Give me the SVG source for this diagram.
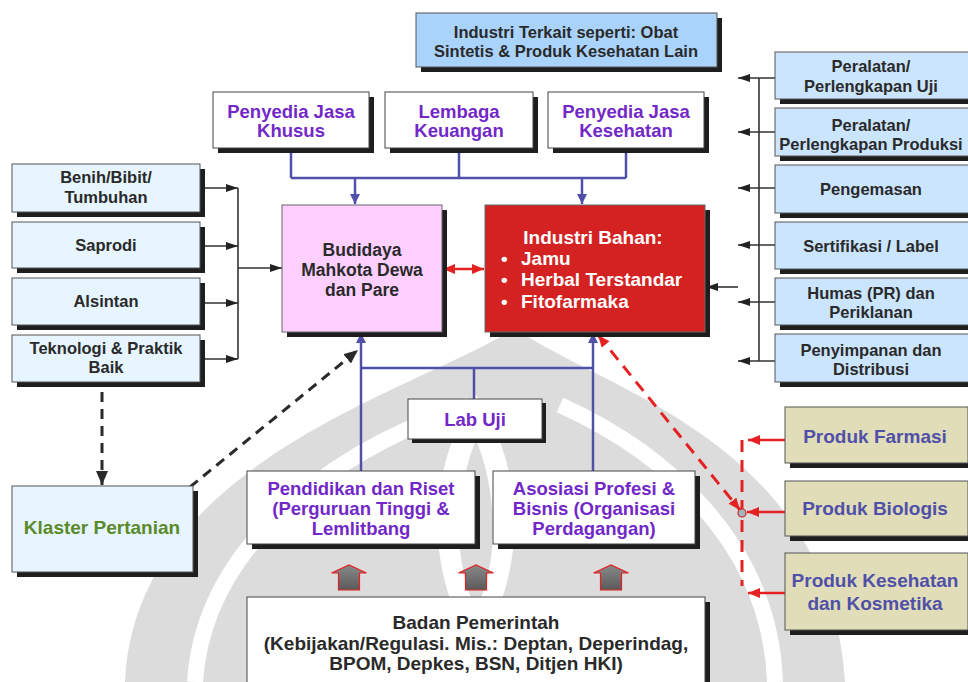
<svg xmlns="http://www.w3.org/2000/svg" width="968" height="682" viewBox="0 0 968 682">
<defs>
<style>
.sh{fill:#1e1e1e}
.lb{fill:#E6F5FF;stroke:#555;stroke-width:1}
.rb{fill:#CCE5FF;stroke:#555;stroke-width:1}
.wb{fill:#fff;stroke:#444;stroke-width:1}
.pk{fill:#FFD0FF;stroke:#666;stroke-width:1}
.rd{fill:#D42222;stroke:#666;stroke-width:1}
.pb{fill:#E0DDB8;stroke:#555;stroke-width:1}
.tb{fill:#AAD3FC;stroke:#555;stroke-width:1}
.t{font-family:"Liberation Sans",Arial,sans-serif;font-weight:bold;text-anchor:middle}
.dk{fill:#2a2a2a;font-size:16.5px}
.pu{fill:#7228C8;font-size:18.5px}
.bl{fill:#5050A8;font-size:19px}
.wt{fill:#fff;font-size:19px;font-family:"Liberation Sans",Arial,sans-serif;font-weight:bold}
.bc{fill:none;stroke:#5050A8;stroke-width:2.5}
.kc{fill:none;stroke:#333;stroke-width:1.6}
.dc{fill:none;stroke:#2a2a2a;stroke-width:3;stroke-dasharray:10 7}
.rc{fill:none;stroke:#E52222;stroke-width:2.5}
.rdc{fill:none;stroke:#E52222;stroke-width:3;stroke-dasharray:12 8}
.ba{fill:url(#g);stroke:#E52222;stroke-width:1.2}
</style>
<linearGradient id="g" x1="0" y1="0" x2="0" y2="1"><stop offset="0" stop-color="#8a8a8a"/><stop offset="1" stop-color="#5a5a5a"/></linearGradient>
<marker id="ab" markerUnits="userSpaceOnUse" markerWidth="12" markerHeight="12" refX="10" refY="5" orient="auto"><path d="M0,0 L10,5 L0,10 Z" fill="#5050A8"/></marker>
<marker id="ak" markerUnits="userSpaceOnUse" markerWidth="14" markerHeight="10" refX="12" refY="4" orient="auto"><path d="M0,0 L12,4 L0,8 Z" fill="#222"/></marker>
<marker id="ar" markerUnits="userSpaceOnUse" markerWidth="14" markerHeight="12" refX="12" refY="5" orient="auto"><path d="M0,0 L12,5 L0,10 Z" fill="#E52222"/></marker>
<marker id="ars" markerUnits="userSpaceOnUse" markerWidth="14" markerHeight="12" refX="0" refY="5" orient="auto"><path d="M12,0 L0,5 L12,10 Z" fill="#E52222"/></marker>
<marker id="ad" markerUnits="userSpaceOnUse" markerWidth="16" markerHeight="14" refX="14" refY="6" orient="auto"><path d="M0,0 L14,6 L0,12 Z" fill="#2a2a2a"/></marker>
</defs>
<rect width="968" height="682" fill="#fff"/>
<g id="watermark" fill="#dcdcdc">
<path d="M515,328 C600,390 830,440 845,682 L125,682 C135,460 420,390 515,328 Z"/>
<path d="M195,682 C205,530 360,440 470,405" fill="none" stroke="#fff" stroke-width="16"/>
<path d="M775,682 C770,540 660,450 560,405" fill="none" stroke="#fff" stroke-width="16"/>
<path d="M476,395 C430,460 420,570 476,650 C532,570 522,460 476,395 Z" fill="#fff"/>
<path d="M476,440 C455,490 452,560 476,610 C500,560 497,490 476,440 Z" fill="#dcdcdc"/>
</g>
<g id="connectors">
<path class="bc" d="M291,148 V178 M459,148 V178 M626,148 V178 M291,178 H626"/>
<path class="bc" d="M355,178 V204" marker-end="url(#ab)"/>
<path class="bc" d="M582,178 V204" marker-end="url(#ab)"/>
<path class="bc" d="M361,471 V333" marker-end="url(#ab)"/>
<path class="bc" d="M593,471 V333" marker-end="url(#ab)"/>
<path class="bc" d="M361,368 H593 M474,399 V368"/>
<path class="kc" d="M200,188 H238" marker-end="url(#ak)"/>
<path class="kc" d="M200,246 H238" marker-end="url(#ak)"/>
<path class="kc" d="M200,303 H238" marker-end="url(#ak)"/>
<path class="kc" d="M200,359 H238" marker-end="url(#ak)"/>
<path class="kc" d="M238,188 V359"/>
<path class="kc" d="M238,268 H282" marker-end="url(#ak)"/>
<path class="kc" d="M759,78 V361"/>
<path class="kc" d="M775,78 H738" marker-end="url(#ak)"/>
<path class="kc" d="M775,132 H738" marker-end="url(#ak)"/>
<path class="kc" d="M775,188 H738" marker-end="url(#ak)"/>
<path class="kc" d="M775,245 H738" marker-end="url(#ak)"/>
<path class="kc" d="M775,302 H738" marker-end="url(#ak)"/>
<path class="kc" d="M775,361 H738" marker-end="url(#ak)"/>
<path class="kc" d="M738,287 H706" marker-end="url(#ak)"/>
<path class="rc" d="M443,269 H484" marker-start="url(#ars)" marker-end="url(#ar)"/>
<path class="dc" d="M102,392 V485" marker-end="url(#ad)"/>
<path class="dc" d="M190,487 L358,350" marker-end="url(#ad)"/>
<path class="rdc" d="M598,335 L740,510" marker-start="url(#ars)" marker-end="url(#ar)"/>
<path class="rdc" d="M742,440 V586"/>
<path class="rc" d="M785,440 H748" marker-end="url(#ar)"/>
<path class="rc" d="M785,512 H747" marker-end="url(#ar)"/>
<path class="rc" d="M785,593 H748" marker-end="url(#ar)"/>
<circle cx="742" cy="513" r="4" fill="#9fb8c0" stroke="#D42222" stroke-width="1.2"/>
<path class="ba" d="M338.5,590 V573 H331.5 L349,565 L366.5,573 H359.5 V590 Z"/>
<path class="ba" d="M465.5,590 V573 H458.5 L476,565 L493.5,573 H486.5 V590 Z"/>
<path class="ba" d="M600.5,590 V573 H593.5 L611,565 L628.5,573 H621.5 V590 Z"/>
</g>
<g id="n-industri-terkait">
<rect class="sh" x="421" y="18" width="301" height="54"/>
<rect class="tb" x="416" y="13" width="301" height="54"/>
<text class="t dk" x="566" y="38">Industri Terkait seperti: Obat</text>
<text class="t dk" x="566" y="57">Sintetis &amp; Produk Kesehatan Lain</text>
</g>
<g id="n-jasa-khusus">
<rect class="sh" x="218" y="97" width="156" height="56"/>
<rect class="wb" x="213" y="92" width="156" height="56"/>
<text class="t pu" x="291" y="118">Penyedia Jasa</text>
<text class="t pu" x="291" y="137">Khusus</text>
</g>
<g id="n-lembaga">
<rect class="sh" x="390" y="97" width="148" height="56"/>
<rect class="wb" x="385" y="92" width="148" height="56"/>
<text class="t pu" x="459" y="118">Lembaga</text>
<text class="t pu" x="459" y="137">Keuangan</text>
</g>
<g id="n-jasa-kesehatan">
<rect class="sh" x="553" y="97" width="156" height="56"/>
<rect class="wb" x="548" y="92" width="156" height="56"/>
<text class="t pu" x="626" y="118">Penyedia Jasa</text>
<text class="t pu" x="626" y="137">Kesehatan</text>
</g>
<g id="n-budidaya">
<rect class="sh" x="287" y="210" width="160" height="127"/>
<rect class="pk" x="282" y="205" width="160" height="127"/>
<text class="t dk" style="font-size:17.5px" x="362" y="256">Budidaya</text>
<text class="t dk" style="font-size:17.5px" x="362" y="276">Mahkota Dewa</text>
<text class="t dk" style="font-size:17.5px" x="362" y="296">dan Pare</text>
</g>
<g id="n-industri-bahan">
<rect class="sh" x="490" y="210" width="220" height="127"/>
<rect class="rd" x="485" y="205" width="220" height="127"/>
<text class="t wt" x="593" y="244">Industri Bahan:</text>
<text class="wt" x="501" y="265">•</text>
<text class="wt" x="521" y="265">Jamu</text>
<text class="wt" x="501" y="286">•</text>
<text class="wt" x="521" y="286">Herbal Terstandar</text>
<text class="wt" x="501" y="308">•</text>
<text class="wt" x="521" y="308">Fitofarmaka</text>
</g>
<g id="n-benih">
<rect class="sh" x="17" y="169" width="188" height="48"/>
<rect class="lb" x="12" y="164" width="188" height="48"/>
<text class="t dk" x="106" y="183">Benih/Bibit/</text>
<text class="t dk" x="106" y="203">Tumbuhan</text>
</g>
<g id="n-saprodi">
<rect class="sh" x="17" y="227" width="188" height="46"/>
<rect class="lb" x="12" y="222" width="188" height="46"/>
<text class="t dk" x="106" y="251">Saprodi</text>
</g>
<g id="n-alsintan">
<rect class="sh" x="17" y="283" width="188" height="47"/>
<rect class="lb" x="12" y="278" width="188" height="47"/>
<text class="t dk" x="106" y="307">Alsintan</text>
</g>
<g id="n-teknologi">
<rect class="sh" x="17" y="340" width="188" height="47"/>
<rect class="lb" x="12" y="335" width="188" height="47"/>
<text class="t dk" x="106" y="354">Teknologi &amp; Praktik</text>
<text class="t dk" x="106" y="373">Baik</text>
</g>
<g id="n-uji">
<rect class="sh" x="780" y="57" width="200" height="47"/>
<rect class="rb" x="775" y="52" width="200" height="47"/>
<text class="t dk" x="871" y="72">Peralatan/</text>
<text class="t dk" x="871" y="92">Perlengkapan Uji</text>
</g>
<g id="n-produksi">
<rect class="sh" x="780" y="113" width="200" height="48"/>
<rect class="rb" x="775" y="108" width="200" height="48"/>
<text class="t dk" x="871" y="131">Peralatan/</text>
<text class="t dk" x="871" y="150">Perlengkapan Produksi</text>
</g>
<g id="n-pengemasan">
<rect class="sh" x="780" y="170" width="200" height="48"/>
<rect class="rb" x="775" y="165" width="200" height="48"/>
<text class="t dk" x="871" y="195">Pengemasan</text>
</g>
<g id="n-sertifikasi">
<rect class="sh" x="780" y="227" width="200" height="47"/>
<rect class="rb" x="775" y="222" width="200" height="47"/>
<text class="t dk" x="871" y="252">Sertifikasi / Label</text>
</g>
<g id="n-humas">
<rect class="sh" x="780" y="283" width="200" height="47"/>
<rect class="rb" x="775" y="278" width="200" height="47"/>
<text class="t dk" x="871" y="299">Humas (PR) dan</text>
<text class="t dk" x="871" y="318">Periklanan</text>
</g>
<g id="n-penyimpanan">
<rect class="sh" x="780" y="339" width="200" height="48"/>
<rect class="rb" x="775" y="334" width="200" height="48"/>
<text class="t dk" x="871" y="356">Penyimpanan dan</text>
<text class="t dk" x="871" y="375">Distribusi</text>
</g>
<g id="n-labuji">
<rect class="sh" x="412" y="403" width="134" height="40"/>
<rect class="wb" x="408" y="399" width="134" height="40"/>
<text class="t pu" x="475" y="426">Lab Uji</text>
</g>
<g id="n-pendidikan">
<rect class="sh" x="252" y="476" width="228" height="73"/>
<rect class="wb" x="247" y="471" width="228" height="73"/>
<text class="t pu" x="361" y="495">Pendidikan dan Riset</text>
<text class="t pu" x="361" y="515">(Perguruan Tinggi &amp;</text>
<text class="t pu" x="361" y="535">Lemlitbang</text>
</g>
<g id="n-asosiasi">
<rect class="sh" x="498" y="476" width="202" height="73"/>
<rect class="wb" x="493" y="471" width="202" height="73"/>
<text class="t pu" x="594" y="495">Asosiasi Profesi &amp;</text>
<text class="t pu" x="594" y="515">Bisnis (Organisasi</text>
<text class="t pu" x="594" y="535">Perdagangan)</text>
</g>
<g id="n-klaster">
<rect class="sh" x="17" y="491" width="181" height="86"/>
<rect class="lb" x="12" y="486" width="181" height="86"/>
<text class="t" style="fill:#5A8A2A;font-size:19px" x="102" y="534">Klaster Pertanian</text>
</g>
<g id="n-farmasi">
<rect class="sh" x="790" y="412" width="183" height="56"/>
<rect class="pb" x="785" y="407" width="183" height="56"/>
<text class="t bl" x="875" y="443">Produk Farmasi</text>
</g>
<g id="n-biologis">
<rect class="sh" x="790" y="486" width="183" height="55"/>
<rect class="pb" x="785" y="481" width="183" height="55"/>
<text class="t bl" x="875" y="515">Produk Biologis</text>
</g>
<g id="n-kesehatan">
<rect class="sh" x="790" y="558" width="183" height="77"/>
<rect class="pb" x="785" y="553" width="183" height="77"/>
<text class="t bl" x="875" y="587">Produk Kesehatan</text>
<text class="t bl" x="875" y="610">dan Kosmetika</text>
</g>
<g id="n-badan">
<rect class="sh" x="252" y="602" width="458" height="100"/>
<rect class="wb" x="247" y="597" width="458" height="100"/>
<text class="t dk" style="font-size:19px" x="476" y="629">Badan Pemerintah</text>
<text class="t dk" style="font-size:19px" x="476" y="650">(Kebijakan/Regulasi. Mis.: Deptan, Deperindag,</text>
<text class="t dk" style="font-size:19px" x="476" y="670">BPOM, Depkes, BSN, Ditjen HKI)</text>
</g>
</svg>
